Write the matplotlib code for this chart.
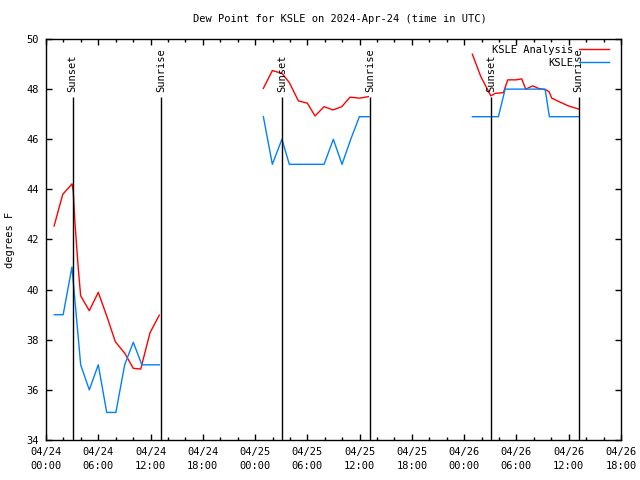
import numpy as np
import pandas as pd
import matplotlib
matplotlib.use("Agg")
import matplotlib.pyplot as plt
import matplotlib.dates as mdates

plt.rcParams['font.family'] = ['DejaVu Sans Mono']
plt.rcParams['font.size'] = 7.5

nan = np.nan
start = pd.Timestamp("2024-04-24 00:00")
end = pd.Timestamp("2024-04-26 18:00")

# hours after 04/24 00:00 UTC, nan = gap between days
ksle_hours = [0.95, 1.97, 2.98, 3.98, 4.97, 6.0, 6.97, 8.02, 9.03, 10.02, 11.0, 12.0, 13.0, nan,
              24.95, 25.98, 27.08, 27.93, 28.95, 29.95, 30.95, 31.92, 32.98, 33.98, 34.98, 35.97, 37.1, nan,
              48.94, 49.94, 50.94, 51.93, 52.7, 53.7, 54.7, 55.7, 56.7, 57.29, 57.78, 58.8, 59.8, 60.8, 61.2]
ksle_dewp = [39.0, 39.0, 40.9, 37.0, 36.0, 37.0, 35.1, 35.1, 37.0, 37.9, 37.0, 37.0, 37.0, nan,
             46.9, 45.0, 46.0, 45.0, 45.0, 45.0, 45.0, 45.0, 46.0, 45.0, 46.0, 46.9, 46.9, nan,
             46.9, 46.9, 46.9, 46.9, 48.0, 48.0, 48.0, 48.0, 48.0, 48.0, 46.9, 46.9, 46.9, 46.9, 46.9]

anl_hours = [0.93, 1.92, 2.99, 3.13, 3.3, 3.52, 3.75, 3.98, 4.97, 6.0, 6.97, 7.96, 9.04, 10.02, 10.87, 11.94, 13.0, nan,
             24.95, 25.98, 27.09, 27.93, 28.97, 30.0, 30.88, 31.92, 32.92, 33.95, 34.9, 35.97, 37.0, nan,
             48.94, 49.91, 51.06, 51.55, 52.5, 53.0, 53.96, 54.6, 55.06, 55.88, 56.52, 57.41, 57.75, 58.06, 59.01, 59.97, 61.2]
anl_dewp = [42.54, 43.8, 44.22, 43.91, 42.78, 41.71, 40.66, 39.75, 39.16, 39.89, 38.95, 37.92, 37.46, 36.86, 36.83, 38.28, 38.98, nan,
            48.03, 48.74, 48.63, 48.26, 47.53, 47.44, 46.93, 47.3, 47.17, 47.3, 47.68, 47.64, 47.7, nan,
            49.39, 48.5, 47.73, 47.83, 47.86, 48.37, 48.37, 48.41, 48.0, 48.13, 48.03, 47.97, 47.89, 47.64, 47.48, 47.33, 47.2]

sunset_hours = [3.05, 27.08, 51.1]
sunrise_hours = [13.2, 37.17, 61.15]


def to_time(hours):
    return start + pd.to_timedelta(np.array(hours), unit="h")


fig = plt.figure(figsize=(6.4, 4.8), dpi=100)
ax = fig.add_axes([46 / 640, 40 / 480, 575 / 640, 401 / 480])

ax.plot(to_time(anl_hours), anl_dewp, color="#ff0000", lw=1, label="KSLE Analysis")
ax.plot(to_time(ksle_hours), ksle_dewp, color="#0080ff", lw=1, label="KSLE")

# sunset / sunrise markers
for hrs, name in [(sunset_hours, "Sunset"), (sunrise_hours, "Sunrise")]:
    ax.vlines(to_time(hrs), 34, 47.7, color="black", lw=1)
    for t in to_time(hrs):
        ax.text(t, 47.9, name, rotation=90, ha="center", va="bottom")

ax.set_xlim(start, end)
ax.set_ylim(34, 50)
ax.set_yticks(np.arange(34, 51, 2))
ax.xaxis.set_major_locator(mdates.HourLocator(byhour=[0, 6, 12, 18]))
ax.xaxis.set_minor_locator(mdates.HourLocator(interval=2))
ax.xaxis.set_major_formatter(mdates.DateFormatter("%m/%d\n%H:%M"))
ax.tick_params(which="both", direction="in", top=True, right=True, width=1)
ax.tick_params(which="major", length=4, pad=5)
ax.tick_params(which="minor", length=2)
for lbl in ax.get_xticklabels():
    lbl.set_linespacing(1.5)
for s in ax.spines.values():
    s.set_linewidth(1)

ax.legend(loc="upper right", bbox_to_anchor=(0.991, 1.003), frameon=False, markerfirst=False,
          handlelength=2.8, handletextpad=0.6, labelspacing=0.25, borderaxespad=0.3)

fig.text(340 / 640, 1 - 19 / 480, "Dew Point for KSLE on 2024-Apr-24 (time in UTC)", ha="center", va="center")
fig.text(10 / 640, 0.5, "degrees F", rotation=90, ha="center", va="center")

fig.savefig("out.png", dpi=100)
